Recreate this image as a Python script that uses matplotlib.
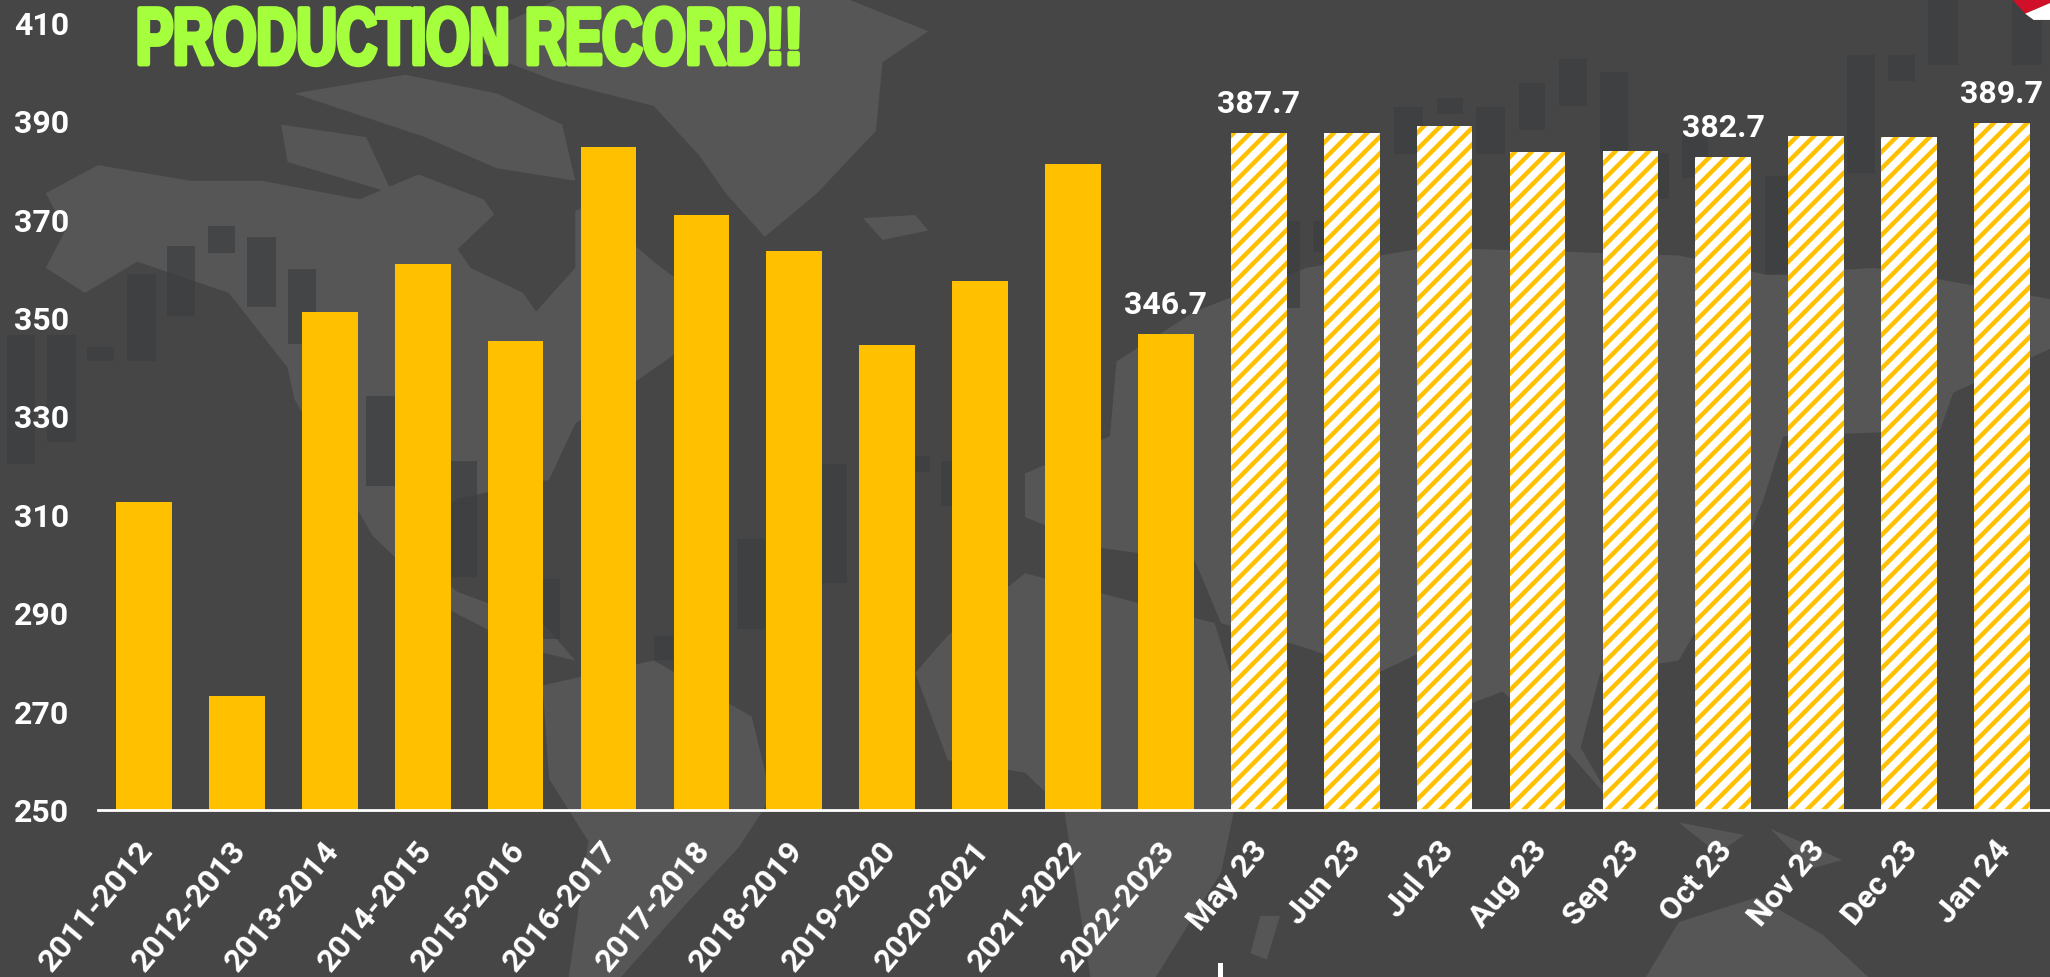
import matplotlib
matplotlib.use("Agg")
import matplotlib.pyplot as plt
from matplotlib.patches import Polygon, Rectangle
from matplotlib.patheffects import AbstractPathEffect
from matplotlib.transforms import Affine2D, ScaledTranslation

W, H = 2050, 977

LABELS_YEAR = ["2011-2012", "2012-2013", "2013-2014", "2014-2015", "2015-2016", "2016-2017",
               "2017-2018", "2018-2019", "2019-2020", "2020-2021", "2021-2022", "2022-2023"]
VALUES_YEAR = [312.7, 273.1, 351.2, 361.0, 345.4, 384.7, 370.9, 363.7, 344.6, 357.6, 381.2, 346.7]
LABELS_MONTH = ["May 23", "Jun 23", "Jul 23", "Aug 23", "Sep 23", "Oct 23", "Nov 23", "Dec 23", "Jan 24"]
VALUES_MONTH = [387.7, 387.7, 389.0, 383.7, 383.9, 382.7, 386.9, 386.8, 389.7]
Y_TICKS = [250, 270, 290, 310, 330, 350, 370, 390, 410]
SHOWN = {"2022-2023": "346.7", "May 23": "387.7", "Oct 23": "382.7", "Jan 24": "389.7"}

# watermark behind the chart, rough outlines; two 1568 wide panels side by side, so x runs to 3136
MAP_LEFT = [
    [(70, 310), (150, 265), (290, 290), (400, 290), (550, 320), (640, 280), (740, 320), (780, 380), (900, 330),
     (1000, 420), (1100, 500), (1030, 570), (880, 680), (840, 770), (700, 800), (620, 880), (700, 950), (830, 1000),
     (880, 1060), (800, 1040), (690, 980), (570, 860), (450, 640), (440, 590), (350, 470), (210, 420), (130, 470),
     (70, 430), (100, 370)],
    [(450, 150), (620, 120), (760, 150), (860, 200), (880, 290), (760, 270), (650, 220)],
    [(430, 200), (560, 220), (600, 310), (440, 260)],
    [(850, 0), (1300, 0), (1420, 50), (1350, 100), (1340, 210), (1250, 310), (1170, 380), (1110, 310), (1070, 250),
     (1000, 170), (850, 130), (700, 70)],
    [(1320, 350), (1400, 345), (1420, 370), (1350, 385)],
    [(830, 1100), (1000, 1060), (1150, 1150), (1180, 1280), (1130, 1360), (1050, 1450), (950, 1568), (870, 1568),
     (900, 1350), (840, 1250)],
    [(1400, 1080), (1450, 1020), (1568, 920), (1568, 1240), (1450, 1220)],
]
MAP_RIGHT = [
    [(0, 920), (290, 1000), (320, 1100), (400, 1130), (320, 1300), (300, 1400), (200, 1568), (100, 1568),
     (60, 1300), (0, 1240)],
    [(0, 760), (130, 700), (140, 580), (260, 500), (430, 430), (600, 400), (700, 400), (1000, 410), (1130, 440),
     (1300, 430), (1568, 480), (1568, 560), (1420, 630), (1400, 690), (1160, 700), (1130, 800), (1100, 880),
     (1000, 1060), (880, 1080), (850, 1200), (900, 1290), (800, 1170), (730, 1110), (680, 1130), (600, 1050),
     (540, 1080), (430, 1040), (300, 1000), (260, 900), (120, 880), (0, 830)],
    [(950, 1568), (1000, 1480), (1120, 1440), (1220, 1500), (1290, 1568)],
    [(1000, 1320), (1100, 1340), (1060, 1370)],
    [(1140, 1330), (1250, 1380), (1200, 1395)],
    [(360, 1470), (390, 1470), (370, 1540), (345, 1530)],
]
HUDSON_BAY = [(700, 400), (760, 340), (880, 310), (880, 430), (820, 500), (800, 470), (720, 430)]
CANDLES_LEFT = [(10, 537, 44, 208), (72, 537, 44, 173), (133, 557, 42, 23), (195, 440, 44, 140), (255, 395, 44, 112),
                (318, 362, 42, 44), (378, 380, 44, 112), (440, 432, 44, 120), (560, 635, 44, 145), (690, 740, 40, 70),
                (690, 808, 40, 118), (830, 930, 26, 95), (1000, 1020, 30, 40), (1127, 865, 44, 145),
                (1258, 745, 38, 190), (1400, 732, 22, 25), (1440, 740, 40, 72)]
CANDLES_RIGHT = [(565, 172, 44, 75), (630, 158, 40, 25), (690, 172, 44, 75), (755, 133, 40, 75), (817, 95, 42, 75),
                 (880, 115, 42, 130), (945, 245, 40, 75), (1005, 215, 40, 70), (1132, 282, 40, 160),
                 (1258, 88, 42, 190), (1320, 88, 42, 42), (1382, 0, 45, 105), (1510, 0, 45, 105),
                 (400, 355, 20, 140), (440, 355, 20, 50)]

BG = "#464646"
MAP = "#565656"
CANDLE = "#3c3e41"
GOLD = "#ffc000"
GREEN = "#a6ff3c"
plt.rcParams["font.family"] = ["Roboto", "DejaVu Sans"]
plt.rcParams["hatch.linewidth"] = 3.2


class SqueezeX(AbstractPathEffect):
    """Squeeze a text horizontally about x0 (no condensed heavy font is installed)"""

    def __init__(self, x0, scale, stroke):
        super().__init__()
        self.x0, self.scale, self.stroke = x0, scale, stroke

    def draw_path(self, renderer, gc, tpath, affine, rgbFace=None):
        squeezed = affine + Affine2D().translate(-self.x0, 0).scale(self.scale, 1).translate(self.x0, 0)
        gc0 = renderer.new_gc()
        gc0.copy_properties(gc)
        gc0.set_linewidth(self.stroke)
        gc0.set_foreground(rgbFace)
        renderer.draw_path(gc0, tpath, squeezed, rgbFace)
        gc0.restore()


fig = plt.figure(figsize=(W / 100, H / 100), dpi=100, facecolor=BG)

# background layer
bg = fig.add_axes([0, 0, 1, 1], zorder=0)
bg.set_xlim(0, 3136)
bg.set_ylim(1568, 0)
bg.axis("off")
shapes = MAP_LEFT + [[(x + 1568, y) for x, y in s] for s in MAP_RIGHT]
for shape in shapes:
    bg.add_patch(Polygon(shape, closed=True, facecolor=MAP, edgecolor="none"))
bg.add_patch(Polygon(HUDSON_BAY, closed=True, facecolor=BG, edgecolor="none"))
candles = CANDLES_LEFT + [(x + 1568, y, w, h) for x, y, w, h in CANDLES_RIGHT]
for cx, cy, cw, ch in candles:
    bg.add_patch(Rectangle((cx, cy), cw, ch, facecolor=CANDLE, edgecolor="none", alpha=0.7))
bg.add_patch(Polygon([(3079, 0), (3136, 0), (3136, 5), (3098, 22)], facecolor="#d01028", edgecolor="none"))
bg.add_patch(Polygon([(3098, 22), (3136, 5), (3136, 32), (3111, 32)], facecolor="white", edgecolor="none"))
bg.add_patch(Rectangle((1863, 1545), 8, 23, facecolor="white", edgecolor="none"))

# chart axes: x=0 sits at 144px with 92.9px between bars, y=250 at 810px with 4.92px per unit
left, bottom = 98, 810
ax = fig.add_axes([left / W, (H - bottom) / H, (W - left) / W, bottom / H], zorder=1)
ax.patch.set_alpha(0)
ax.set_xlim((left - 144) / 92.9, (W - 144) / 92.9)
ax.set_ylim(250, 250 + bottom / 4.92)

labels = LABELS_YEAR + LABELS_MONTH
x_year = list(range(len(VALUES_YEAR)))
x_month = list(range(len(VALUES_YEAR), len(labels)))
ax.bar(x_year, VALUES_YEAR, width=0.6, color=GOLD, linewidth=0)
ax.bar(x_month, VALUES_MONTH, width=0.6, facecolor="white", edgecolor=GOLD, hatch="//", linewidth=0)

values = VALUES_YEAR + VALUES_MONTH
for i, name in enumerate(labels):
    if name in SHOWN:
        ax.text(i, values[i] + 2.8, SHOWN[name], ha="center", va="bottom", color="white",
                fontsize=23, fontweight="bold")

for side in ["top", "left", "right"]:
    ax.spines[side].set_visible(False)
ax.spines["bottom"].set_color("white")
ax.spines["bottom"].set_linewidth(2)
ax.set_yticks(Y_TICKS)
ax.set_xticks(range(len(labels)))
ax.set_xticklabels(labels, rotation=50, ha="right", va="top", rotation_mode="anchor",
                   fontsize=23, fontweight="bold", color="white")
ax.tick_params(axis="x", length=0, pad=18)
ax.tick_params(axis="y", length=0, pad=21, labelsize=23, labelcolor="white")
for t in ax.get_yticklabels():
    t.set_fontweight("bold")
for t in ax.get_xticklabels():
    t.set_transform(t.get_transform() + ScaledTranslation(-8 / 100, 0, fig.dpi_scale_trans))

title = fig.text(136 / W, 1 - 64 / H, "PRODUCTION RECORD!!", color=GREEN, ha="left", va="baseline",
                 fontsize=58, fontweight="bold", zorder=3, family=["Liberation Sans", "DejaVu Sans"])
title.set_path_effects([SqueezeX(136, 0.69, 3.5)])

fig.savefig("out.png", dpi=100, facecolor=BG)
